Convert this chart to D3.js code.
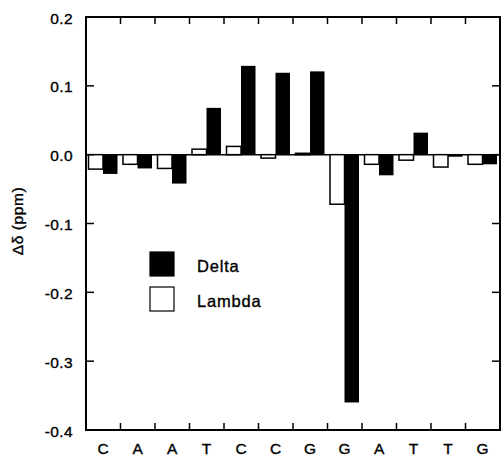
<!DOCTYPE html>
<html>
<head>
<meta charset="utf-8">
<title>Delta / Lambda chemical shift</title>
<style>
  body { margin: 0; background: #fff; }
  svg text { font-family: "Liberation Sans", Arial, sans-serif; fill: #000; stroke: #000; stroke-width: 0.35; }
  .tick-label { font-size: 15.5px; letter-spacing: 0.4px; }
</style>
</head>
<body>
<svg width="502" height="456"></svg>
<script src="https://d3js.org/d3.v7.min.js"></script>
<script>
// data
var bases  = ["C", "A", "A", "T", "C", "C", "G", "G", "A", "T", "T", "G"];
var lambda = [-0.021, -0.014, -0.020, 0.008, 0.012, -0.005, 0.002, -0.072, -0.014, -0.008, -0.018, -0.014];
var delta  = [-0.028, -0.020, -0.042, 0.068, 0.129, 0.119, 0.121, -0.360, -0.030, 0.032, -0.003, -0.014];
var yTicks = [0.2, 0.1, 0.0, -0.1, -0.2, -0.3, -0.4];

var svg = d3.select("svg");
var pLeft = 86, pRight = 500, pTop = 17, pBottom = 430;

var x = d3.scaleBand()
    .domain(d3.range(bases.length))
    .range([pLeft, pRight]);
var y = d3.scaleLinear()
    .domain([-0.4, 0.2])
    .range([pBottom, pTop]);

var bw = 14.5, off = 2.5;

// zero line
svg.append("line")
    .attr("x1", pLeft).attr("x2", pRight)
    .attr("y1", y(0)).attr("y2", y(0))
    .attr("stroke", "#000").attr("stroke-width", 1.5);

// lambda bars (open)
svg.append("g").selectAll("rect")
    .data(lambda)
    .enter().append("rect")
    .attr("x", function(d, i) { return x(i) + off; })
    .attr("width", bw)
    .attr("y", function(d) { return y(Math.max(0, d)); })
    .attr("height", function(d) { return Math.abs(y(d) - y(0)); })
    .attr("fill", "#fff")
    .attr("stroke", "#000")
    .attr("stroke-width", 1.5);

// delta bars (filled)
svg.append("g").selectAll("rect")
    .data(delta)
    .enter().append("rect")
    .attr("x", function(d, i) { return x(i) + off + bw; })
    .attr("width", bw)
    .attr("y", function(d) { return y(Math.max(0, d)); })
    .attr("height", function(d) { return Math.max(1.5, Math.abs(y(d) - y(0))); })
    .attr("fill", "#000");

// frame
svg.append("rect")
    .attr("x", pLeft).attr("y", pTop)
    .attr("width", pRight - pLeft).attr("height", pBottom - pTop)
    .attr("fill", "none").attr("stroke", "#000").attr("stroke-width", 2);

// y ticks, inward on both sides
var fmt = function(v) { return d3.format(".1f")(v).replace("\u2212", "-"); };
var yt = svg.append("g");
yTicks.forEach(function(v) {
  yt.append("line").attr("x1", pLeft).attr("x2", pLeft + 8)
    .attr("y1", y(v)).attr("y2", y(v)).attr("stroke", "#000").attr("stroke-width", 1.5);
  yt.append("line").attr("x1", pRight).attr("x2", pRight - 8)
    .attr("y1", y(v)).attr("y2", y(v)).attr("stroke", "#000").attr("stroke-width", 1.5);
  yt.append("text").attr("class", "tick-label")
    .attr("x", 73).attr("y", y(v) + 6.5)
    .attr("text-anchor", "end")
    .text(fmt(v));
});

// x ticks at band boundaries, inward top and bottom
var xt = svg.append("g");
d3.range(1, bases.length).forEach(function(i) {
  var px = x(i);
  xt.append("line").attr("x1", px).attr("x2", px)
    .attr("y1", pBottom).attr("y2", pBottom - 7).attr("stroke", "#000").attr("stroke-width", 1.5);
  xt.append("line").attr("x1", px).attr("x2", px)
    .attr("y1", pTop).attr("y2", pTop + 7).attr("stroke", "#000").attr("stroke-width", 1.5);
});
xt.selectAll("text.base")
    .data(bases)
    .enter().append("text")
    .attr("class", "tick-label")
    .attr("x", function(d, i) { return x(i) + x.bandwidth() / 2; })
    .attr("y", 454)
    .attr("text-anchor", "middle")
    .text(function(d) { return d; });

// y title
svg.append("text")
    .attr("transform", "translate(23,221) rotate(-90)")
    .attr("text-anchor", "middle")
    .attr("font-size", 15.5)
    .attr("letter-spacing", 0.6)
    .text("\u0394\u03b4 (ppm)");

// legend
var legend = [["Delta", "#000"], ["Lambda", "#fff"]];
var lg = svg.append("g").selectAll("g")
    .data(legend)
    .enter().append("g")
    .attr("transform", function(d, i) { return "translate(150," + (252 + i * 35) + ")"; });
lg.append("rect")
    .attr("width", 24).attr("height", 24)
    .attr("fill", function(d) { return d[1]; })
    .attr("stroke", "#000").attr("stroke-width", 1.2);
lg.append("text")
    .attr("x", 47).attr("y", 20)
    .attr("font-size", 16.5)
    .attr("letter-spacing", 0.8)
    .text(function(d) { return d[0]; });
</script>
</body>
</html>
